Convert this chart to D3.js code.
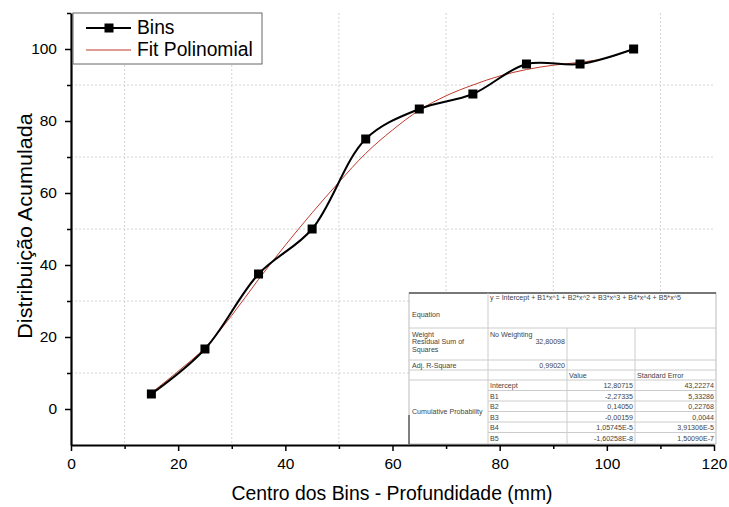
<!DOCTYPE html>
<html>
<head>
<meta charset="utf-8">
<script src="https://cdn.jsdelivr.net/npm/d3@7"></script>
<style>
  body { margin: 0; background: #fff; }
  svg { font-family: "Liberation Sans", Arial, sans-serif; }
</style>
</head>
<body>
<div id="chart"></div>
<script>
// data
const binCenters = [15, 25, 35, 45, 55, 65, 75, 85, 95, 105];
const binValues = [4.17, 16.67, 37.5, 50, 75, 83.33, 87.5, 95.83, 95.83, 100];

const fitX = [15, 20, 25, 30, 35, 40, 45, 50, 55, 60, 65, 70, 75, 80, 85, 90, 95, 100, 105];
const fitY = [4.5, 10.5, 17, 26, 36, 45.5, 54.5, 63, 71, 77.5, 83, 87, 90, 92.5, 94.3, 95.5, 96.3, 97.5, 100];

const xTicks = [0, 20, 40, 60, 80, 100, 120];
const yTicks = [0, 20, 40, 60, 80, 100];
const minorX = [10, 30, 50, 70, 90, 110];
const minorY = [10, 30, 50, 70, 90, 110];

const tableRows = [
    ["Intercept", "12,80715", "43,22274"],
    ["B1", "-2,27335", "5,33286"],
    ["B2", "0,14050", "0,22768"],
    ["B3", "-0,00159", "0,0044"],
    ["B4", "1,05745E-5", "3,91306E-5"],
    ["B5", "-1,60258E-8", "1,50090E-7"]
];

var width = 729, height = 507;

var svg = d3.select("#chart")
    .append("svg")
    .attr("width", width)
    .attr("height", height);

const x = d3.scaleLinear().domain([0, 120]).range([71, 714]);
const y = d3.scaleLinear().domain([-10, 110]).range([445, 13]);

// grid (dotted, at the odd tens)
svg.append("g").selectAll("line")
    .data(minorX)
    .join("line")
    .attr("x1", d => x(d)).attr("x2", d => x(d))
    .attr("y1", y(110)).attr("y2", y(-10))
    .attr("stroke", "#d4d4d4")
    .attr("stroke-dasharray", "2,2");
svg.append("g").selectAll("line")
    .data(minorY.filter(d => d < 110))
    .join("line")
    .attr("y1", d => y(d)).attr("y2", d => y(d))
    .attr("x1", x(0)).attr("x2", x(120))
    .attr("stroke", "#d4d4d4")
    .attr("stroke-dasharray", "2,2");

// fit polinomial
svg.append("path")
    .datum(fitX.map((d, i) => [d, fitY[i]]))
    .attr("fill", "none")
    .attr("stroke", "#c0392b")
    .attr("stroke-width", 1)
    .attr("d", d3.line()
        .curve(d3.curveCatmullRom)
        .x(d => x(d[0]))
        .y(d => y(d[1])));

// bins
svg.append("path")
    .datum(binCenters.map((d, i) => [d, binValues[i]]))
    .attr("fill", "none")
    .attr("stroke", "#000")
    .attr("stroke-width", 2)
    .attr("d", d3.line()
        .curve(d3.curveCatmullRom.alpha(0.5))
        .x(d => x(d[0]))
        .y(d => y(d[1])));

svg.append("g").selectAll("rect")
    .data(binCenters)
    .join("rect")
    .attr("x", d => x(d) - 4.5)
    .attr("y", (d, i) => y(binValues[i]) - 4.5)
    .attr("width", 9)
    .attr("height", 9)
    .attr("fill", "#000");

// table of fit results
const tb = { left: 409, top: 293, right: 716, bottom: 444 };
const cols = [409, 488, 567, 635, 716];
const table = svg.append("g").attr("font-size", 7.1).attr("fill", "#444");
table.append("rect")
    .attr("x", tb.left).attr("y", tb.top)
    .attr("width", tb.right - tb.left).attr("height", tb.bottom - tb.top)
    .attr("fill", "#fff").attr("stroke", "#bbb").attr("stroke-width", 1);
table.append("line")
    .attr("x1", tb.left).attr("x2", tb.right).attr("y1", tb.top).attr("y2", tb.top)
    .attr("stroke", "#777").attr("stroke-width", 2);
table.append("line")
    .attr("x1", tb.left).attr("x2", tb.left).attr("y1", 415).attr("y2", tb.bottom)
    .attr("stroke", "#222").attr("stroke-width", 1);

const rowLines = [
    [tb.left, tb.right, 328],
    [tb.left, tb.right, 360],
    [tb.left, tb.right, 370],
    [tb.left, tb.right, 380],
    [cols[1], tb.right, 390.5],
    [cols[1], tb.right, 401],
    [cols[1], tb.right, 411.5],
    [cols[1], tb.right, 422],
    [cols[1], tb.right, 432.5]
];
table.selectAll(".hl")
    .data(rowLines)
    .join("line")
    .attr("x1", d => d[0]).attr("x2", d => d[1])
    .attr("y1", d => d[2]).attr("y2", d => d[2])
    .attr("stroke", "#ccc");
const colLines = [
    [cols[1], tb.top, tb.bottom],
    [cols[2], 328, tb.bottom],
    [cols[3], 328, tb.bottom]
];
table.selectAll(".vl")
    .data(colLines)
    .join("line")
    .attr("x1", d => d[0]).attr("x2", d => d[0])
    .attr("y1", d => d[1]).attr("y2", d => d[2])
    .attr("stroke", "#ccc");

function cell(txt, xx, yy, anchor) {
    table.append("text").attr("x", xx).attr("y", yy)
        .attr("text-anchor", anchor || "start").text(txt);
}
cell("y = Intercept + B1*x^1 + B2*x^2 + B3*x^3 + B4*x^4 + B5*x^5", cols[1] + 2, 300);
cell("Equation", tb.left + 3, 317);
cell("Weight", tb.left + 3, 337);
cell("Residual Sum of", tb.left + 3, 344);
cell("Squares", tb.left + 3, 352);
cell("No Weighting", cols[1] + 2, 337);
cell("32,80098", cols[2] - 2, 344, "end");
cell("Adj. R-Square", tb.left + 3, 367.5);
cell("0,99020", cols[2] - 2, 367.5, "end");
cell("Value", cols[2] + 2, 377.5);
cell("Standard Error", cols[3] + 2, 377.5);
cell("Cumulative Probability", tb.left + 3, 414);
tableRows.forEach((r, i) => {
    const yy = 388 + i * 10.5;
    cell(r[0], cols[1] + 2, yy);
    cell(r[1], cols[3] - 2, yy, "end");
    cell(r[2], cols[4] - 2, yy, "end");
});

// axes
const xAxis = svg.append("g")
    .attr("transform", "translate(0," + y(-10) + ")")
    .call(d3.axisBottom(x).tickValues(xTicks).tickSize(6).tickSizeOuter(0).tickPadding(7));
svg.append("g")
    .attr("transform", "translate(0," + y(-10) + ")")
    .call(d3.axisBottom(x).tickValues(minorX).tickSize(4).tickFormat(""))
    .call(g => g.select(".domain").remove());
const yAxis = svg.append("g")
    .attr("transform", "translate(" + x(0) + ",0)")
    .call(d3.axisLeft(y).tickValues(yTicks).tickSize(6).tickSizeOuter(0).tickPadding(8));
svg.append("g")
    .attr("transform", "translate(" + x(0) + ",0)")
    .call(d3.axisLeft(y).tickValues(minorY).tickSize(4).tickFormat(""))
    .call(g => g.select(".domain").remove());

svg.selectAll(".domain").attr("stroke-width", 2.2);
svg.selectAll(".tick line").attr("stroke-width", 1.5);
[xAxis, yAxis].forEach(g => g.selectAll("text")
    .attr("font-family", "Liberation Sans, Arial, sans-serif")
    .attr("font-size", 15.5)
    .attr("fill", "#000"));

// axis titles
svg.append("text")
    .attr("transform", "translate(392,500) scale(1,1.05)")
    .attr("text-anchor", "middle")
    .attr("font-size", 19.4)
    .text("Centro dos Bins - Profundidade (mm)");
svg.append("text")
    .attr("transform", "translate(32,226) rotate(-90) scale(1,0.9)")
    .attr("text-anchor", "middle")
    .attr("font-size", 21.6)
    .text("Distribuição Acumulada");

// legend
const lg = svg.append("g");
lg.append("rect")
    .attr("x", 73).attr("y", 13).attr("width", 189).attr("height", 51)
    .attr("fill", "#fff").attr("stroke", "#666").attr("stroke-width", 1);
lg.append("line").attr("x1", 86).attr("x2", 131).attr("y1", 28).attr("y2", 28)
    .attr("stroke", "#000").attr("stroke-width", 2);
lg.append("rect").attr("x", 104.5).attr("y", 23.5).attr("width", 9).attr("height", 9).attr("fill", "#000");
lg.append("line").attr("x1", 86).attr("x2", 131).attr("y1", 50).attr("y2", 50)
    .attr("stroke", "#c0392b").attr("stroke-width", 1);
lg.append("text").attr("x", 137).attr("y", 34).attr("font-size", 19.3).text("Bins");
lg.append("text").attr("x", 137).attr("y", 56).attr("font-size", 19.3).text("Fit Polinomial");
</script>
</body>
</html>
